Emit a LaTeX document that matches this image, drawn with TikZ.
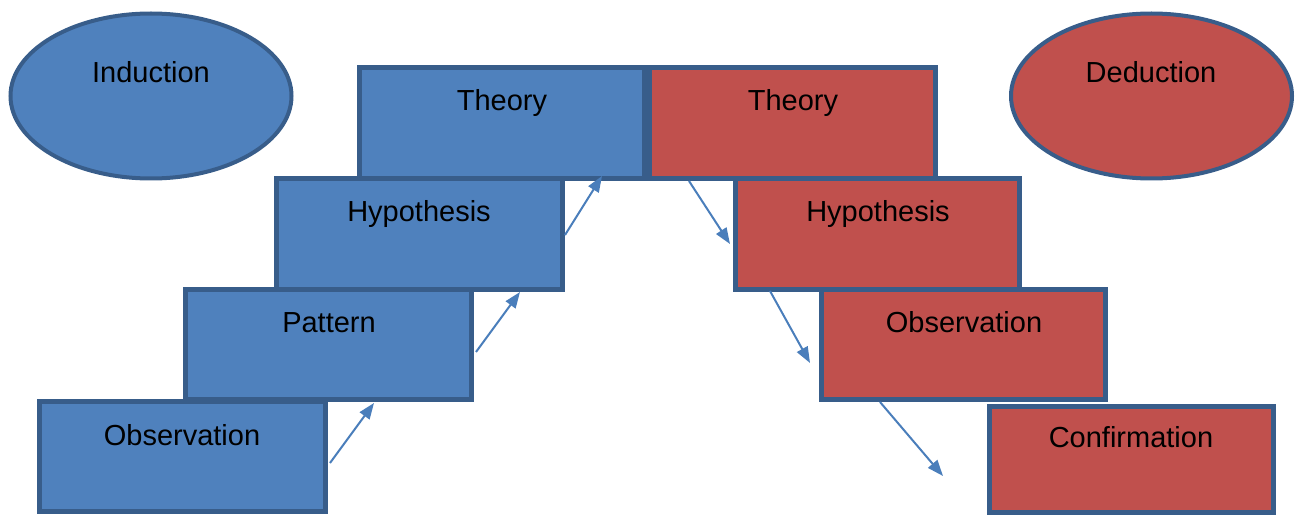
\documentclass[tikz,border=0pt]{standalone}
\usepackage{fontspec}
\setmainfont{Liberation Sans}
\usetikzlibrary{arrows.meta,shapes.geometric}
\definecolor{bfill}{HTML}{4F81BD}
\definecolor{rfill}{HTML}{C0504D}
\definecolor{edge}{HTML}{385D8A}
\definecolor{arr}{HTML}{4A7EBB}
\tikzset{
  box/.style={rectangle, draw=edge, line width=5pt, inner sep=0pt, minimum width=286pt, minimum height=110pt},
  bbox/.style={box, fill=bfill},
  rbox/.style={box, fill=rfill},
  oval/.style={ellipse, draw=edge, line width=4pt, inner sep=0pt, minimum width=281pt, minimum height=165pt},
  lbl/.style={anchor=base, inner sep=0pt, font=\fontsize{29}{34}\selectfont},
  flow/.style={draw=arr, line width=2pt, -{Triangle[length=16pt,width=12pt]}}
}
\begin{document}
\begin{tikzpicture}[x=1pt,y=-1pt]
\useasboundingbox (0,0) rectangle (1299,516);
% ellipses
\node[oval, fill=bfill] (ind) at (151,96) {};
\node[oval, fill=rfill] (ded) at (1151.5,96) {};
\node[lbl] (indt) at (151,83) {Induction};
\node[lbl] (dedt) at (1151,83) {Deduction};
% blue steps
\node[bbox] (bobs) at (182.5,456) {};
\node[bbox] (bpat) at (328.5,344) {};
\node[bbox] (bhyp) at (419.5,234) {};
\node[bbox, minimum width=285pt, minimum height=111pt] (bth) at (502,123.5) {};
% red steps
\node[rbox, minimum width=284pt, minimum height=106pt] (rcon) at (1131.5,459) {};
\node[rbox, minimum width=284pt] (robs) at (963.5,344) {};
\node[rbox, minimum width=284pt] (rhyp) at (877.5,234) {};
\node[rbox, minimum height=111pt] (rth) at (792.5,123.5) {};
% labels
\node[lbl] at (182,445) {Observation};
\node[lbl] at (329,332) {Pattern};
\node[lbl] at (419,222) {Hypothesis};
\node[lbl] at (502,111) {Theory};
\node[lbl] at (793,111) {Theory};
\node[lbl] at (878,222) {Hypothesis};
\node[lbl] at (964,332) {Observation};
\node[lbl] at (1131,447) {Confirmation};
% arrow end points
\coordinate (a1s) at (330,463); \coordinate (a1e) at (374,403);
\coordinate (a2s) at (476,352); \coordinate (a2e) at (520,292);
\coordinate (a3s) at (565,235); \coordinate (a3e) at (602,176);
\coordinate (a4s) at (689,181); \coordinate (a4e) at (730,244);
\coordinate (a5s) at (770,291); \coordinate (a5e) at (810,363);
\coordinate (a6s) at (880,402); \coordinate (a6e) at (943,476);
\draw[flow] (a1s) -- (a1e);
\draw[flow] (a2s) -- (a2e);
\draw[flow] (a3s) -- (a3e);
\draw[flow] (a4s) -- (a4e);
\draw[flow] (a5s) -- (a5e);
\draw[flow] (a6s) -- (a6e);
\end{tikzpicture}
\end{document}
